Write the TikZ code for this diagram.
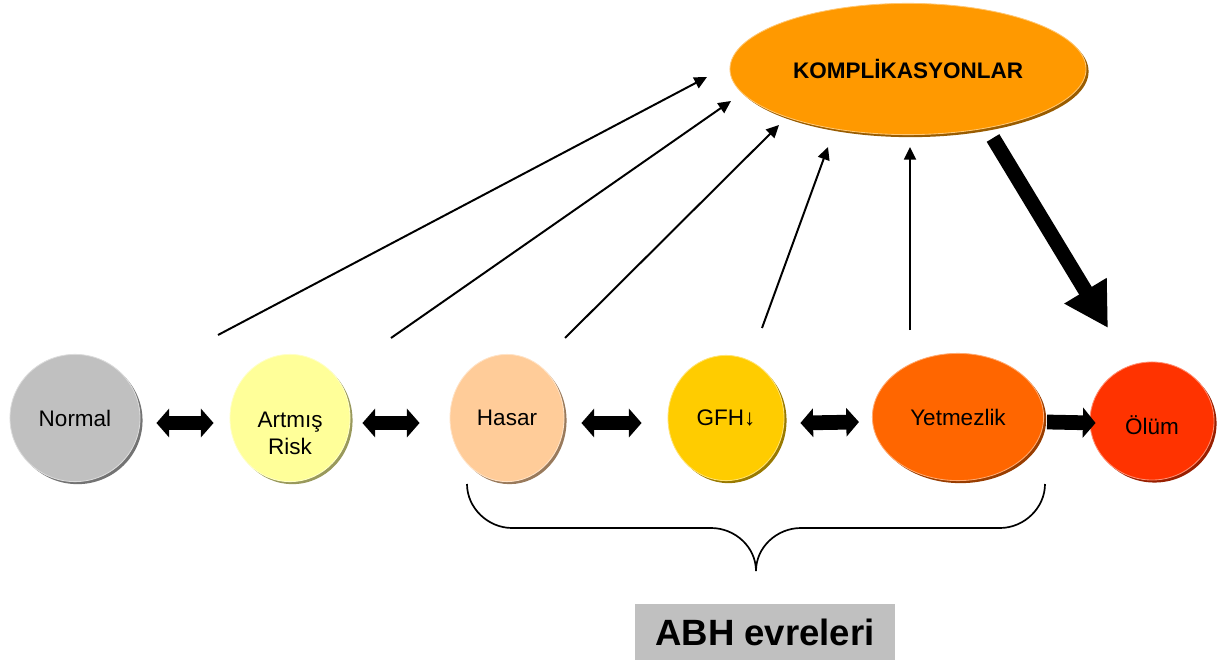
\documentclass[tikz,border=0pt]{standalone}
\usepackage{fontspec}
\setmainfont{Liberation Sans}
\usepackage{tikz}
\usetikzlibrary{shapes.geometric, arrows.meta, positioning, calc, shadows}
\definecolor{stgray}{RGB}{192,192,192}
\definecolor{stlemon}{RGB}{255,255,153}
\definecolor{stpeach}{RGB}{255,204,153}
\definecolor{stgold}{RGB}{255,204,0}
\definecolor{storange}{RGB}{255,102,0}
\definecolor{stred}{RGB}{255,51,0}
\definecolor{stamber}{RGB}{255,153,0}
\tikzset{
  stage/.style={ellipse, fill=#1, draw=#1!55!white, line width=0.6pt,
    inner sep=0pt, align=center, font=\fontsize{16}{18}\selectfont,
    drop shadow={shadow xshift=1.8pt, shadow yshift=-1.8pt,
      fill=#1!60!black, opacity=1}},
  dblarrow/.style={{Triangle[length=9pt,width=20pt]}-{Triangle[length=9pt,width=20pt]},
    line width=10.5pt},
  fatarrow/.style={-{Triangle[length=9pt,width=21pt]}, line width=10.5pt},
  bigarrow/.style={-{Triangle[length=31pt,width=33pt]}, line width=10.5pt},
  thinarrow/.style={-{Triangle[length=9pt,width=8.5pt]}, line width=1.4pt},
  brace/.style={line width=1.2pt}
}

\begin{document}
\begin{tikzpicture}[x=0.025cm, y=0.025cm]
  \useasboundingbox (0,0) rectangle (1230,-663);

  % stages
  \node[stage=stgray, minimum width=3.25cm, minimum height=3.18cm] (normal) at (75,-418) {Normal};
  \node[stage=stlemon, minimum width=3.0cm, minimum height=3.18cm] (artmis) at (290,-418)
    {\raisebox{-17pt}[0pt][0pt]{\begin{tabular}{@{}c@{}}Artmış\\[1pt]Risk\end{tabular}}};
  \node[stage=stpeach, minimum width=2.85cm, minimum height=3.18cm] (hasar) at (507,-418) {Hasar};
  \node[stage=stgold, minimum width=2.9cm, minimum height=3.13cm] (gfh) at (726,-418) {GFH↓};
  \node[stage=storange, minimum width=4.28cm, minimum height=3.18cm] (yetmez) at (958,-417) {Yetmezlik};
  \node[stage=stred, minimum width=3.1cm, minimum height=2.95cm] (olum) at (1152,-421)
    {\raisebox{-9.5pt}[0pt][0pt]{Ölüm}};
  \node[stage=stamber, minimum width=8.9cm, minimum height=3.28cm,
    font=\fontsize{16}{18}\selectfont\bfseries] (komp) at (908,-69) {KOMPLİKASYONLAR};

  % arrows between stages
  \draw[dblarrow] ($(normal.east)+(16,-5)$) -- ($(artmis.west)+(-16,-5)$);
  \draw[dblarrow] ($(artmis.east)+(12,-5)$) -- ($(hasar.west)+(-30,-5)$);
  \draw[dblarrow] ($(hasar.east)+(17,-5)$) -- ($(gfh.west)+(-26,-5)$);
  \draw[dblarrow] ($(gfh.east)+(16,-5)$) -- ($(yetmez.west)+(-13,-5)$);
  \draw[fatarrow] ($(yetmez.east)+(3,-5)$) -- ($(olum.west)+(6,-2)$);

  % arrows to complications
  \coordinate (n1) at (218,-335);  \coordinate (k1) at (707,-77);
  \coordinate (n2) at (391,-338);  \coordinate (k2) at (731,-101);
  \coordinate (n3) at (565,-338);  \coordinate (k3) at (779,-125);
  \coordinate (n4) at (762,-328);  \coordinate (k4) at (828,-147);
  \coordinate (n5) at (910,-330);  \coordinate (k5) at (910,-147);
  \foreach \i in {1,...,5}
    \draw[thinarrow] (n\i) -- (k\i);
  \coordinate (k6) at (993,-138);
  \coordinate (o6) at (1108,-328);
  \draw[bigarrow] (k6) -- (o6);

  % brace
  \draw[brace] (467,-484) .. controls (467,-508) and (488,-528) .. (512,-528)
    -- (711,-528) .. controls (735,-528) and (756,-547) .. (756,-571)
    .. controls (756,-547) and (777,-528) .. (801,-528)
    -- (1000,-528) .. controls (1024,-528) and (1045,-508) .. (1045,-484);

  \node[fill=stgray, minimum width=6.48cm, minimum height=1.4cm, inner sep=0pt,
    font=\fontsize{26}{30}\selectfont\bfseries] (abh) at (765,-632) {ABH evreleri};
\end{tikzpicture}
\end{document}
